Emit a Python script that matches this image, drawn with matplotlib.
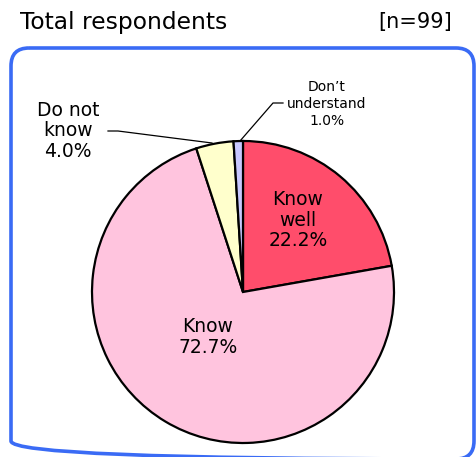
import matplotlib
matplotlib.use("Agg")
import matplotlib.pyplot as plt
from matplotlib.patches import FancyBboxPatch

title = "Total respondents"
n_label = "[n=99]"
categories = ["Know\nwell", "Know", "Do not\nknow", "Don\u2019t\nunderstand"]
values = [22.2, 72.7, 4.0, 1.0]
colors = ["#FF4D6B", "#FFC4DE", "#FFFFCC", "#C8C8FF"]

W, H = 477, 457
fig = plt.figure(figsize=(W / 100, H / 100), dpi=100)
ax = fig.add_axes([0, 0, 1, 1])

cx, cy, r = 243, 292, 151
# y axis is inverted below, so startangle=-90 points up on screen and
# counterclock=True runs clockwise on screen
wedges, _ = ax.pie(values, colors=colors, startangle=-90, counterclock=True,
                   center=(cx, cy), radius=r, frame=True,
                   wedgeprops=dict(edgecolor="black", linewidth=1.6))
ax.set_xlim(0, W)
ax.set_ylim(H, 0)
ax.set_aspect("equal")
ax.axis("off")

# rounded frame
box = FancyBboxPatch((11, 48), 463, 411, boxstyle="round,pad=0,rounding_size=18",
                     fill=False, edgecolor="#3A6BF5", linewidth=2.6)
ax.add_patch(box)

fig.text(20 / W, 1 - 22 / H, title, fontsize=16.8, va="center", ha="left")
fig.text(452 / W, 1 - 22 / H, n_label, fontsize=15, va="center", ha="right")

lab = [f"{c}\n{v:.1f}%" for c, v in zip(categories, values)]
ax.text(298, 220, lab[0], ha="center", va="center", fontsize=13.5, linespacing=1.1)
ax.text(208, 337, lab[1], ha="center", va="center", fontsize=13.5, linespacing=1.1)
ax.text(68, 131, lab[2], ha="center", va="center", fontsize=13.5, linespacing=1.1)
ax.text(327, 104, lab[3], ha="center", va="center", fontsize=10, linespacing=1.25)

ax.plot([108, 118, 212], [131, 131, 143], color="black", linewidth=0.9)
ax.plot([283, 273, 240], [103, 103, 141], color="black", linewidth=0.9)

fig.savefig("out.png", dpi=100, facecolor="white")
